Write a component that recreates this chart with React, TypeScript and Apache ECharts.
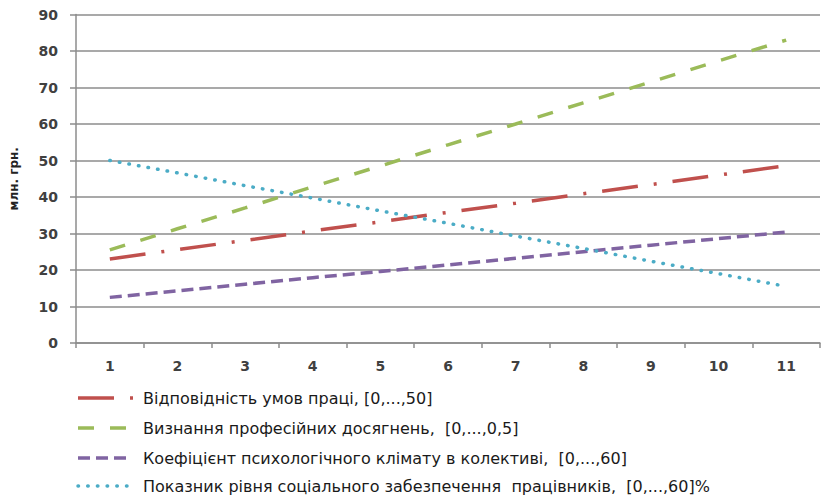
import React, { useEffect, useRef } from "react";
import * as echarts from "echarts";

// Periods 1..11 on the horizontal axis
const periods = ["1", "2", "3", "4", "5", "6", "7", "8", "9", "10", "11"];

const seriesNames = [
  "Відповідність умов праці, [0,...,50]",
  "Визнання професійних досягнень,  [0,...,0,5]",
  "Коефіцієнт психологічного клімату в колективі,  [0,...,60]",
  "Показник рівня соціального забезпечення  працівників,  [0,...,60]%",
];

const workConditions = [23.0, 25.6, 28.1, 30.7, 33.2, 35.8, 38.3, 40.9, 43.4, 46.0, 48.6];
const recognition = [25.5, 31.3, 37.0, 42.8, 48.5, 54.3, 60.0, 65.8, 71.5, 77.3, 83.0];
const climate = [12.5, 14.3, 16.1, 17.9, 19.6, 21.4, 23.2, 25.0, 26.8, 28.6, 30.4];
const socialSecurity = [50.0, 46.6, 43.1, 39.7, 36.2, 32.8, 29.3, 25.9, 22.4, 19.0, 15.5];

const yAxisName = "млн. грн.";

const colors = ["#C0504D", "#9BBB59", "#8064A2", "#4BACC6"];

// Dash patterns per series: dash-dot, long dash, short dash, round dot
const dashes = [[36, 16, 3, 16], [16, 16], [12, 6], [0.5, 9.2]];
const caps: ("butt" | "round")[] = ["butt", "butt", "butt", "round"];

export default function App() {
  const ref = useRef<HTMLDivElement>(null);

  useEffect(() => {
    if (!ref.current) return;
    const chart = echarts.init(ref.current, undefined, { renderer: "svg" });

    const gridColor = "#8C8C8C";
    const tickFont = {
      fontFamily: "DejaVu Sans",
      fontSize: 14,
      fontWeight: "bold" as const,
      color: "#404040",
    };

    const series = [workConditions, recognition, climate, socialSecurity].map((data, i) => ({
      name: seriesNames[i],
      type: "line" as const,
      data,
      symbol: "none",
      showSymbol: false,
      lineStyle: { color: colors[i], width: 3.5, type: dashes[i], cap: caps[i] },
      itemStyle: { color: colors[i] },
    }));

    // Vertical legend below the plot, one row per series
    const legendRows = [398, 428, 458, 486];
    const iconLeft = 78;
    const iconLengths = [58, 48, 50, 50];
    const legendItems = seriesNames.map((name, i) => {
      const y = legendRows[i];
      return {
        type: "group",
        children: [
          {
            type: "line",
            shape: { x1: iconLeft, y1: y, x2: iconLeft + iconLengths[i], y2: y },
            style: {
              stroke: colors[i],
              lineWidth: 3.5,
              lineDash: dashes[i],
              lineCap: caps[i],
            },
          },
          {
            type: "text",
            x: 143,
            y,
            style: {
              text: name,
              fontFamily: "DejaVu Sans",
              fontSize: 16,
              lineHeight: 18,
              fill: "#1a1a1a",
              verticalAlign: "middle",
              align: "left",
            },
          },
        ],
      };
    });

    chart.setOption({
      animation: false,
      backgroundColor: "#ffffff",
      color: colors,
      grid: { left: 72, right: 2, top: 14.5, bottom: 153, containLabel: false },
      xAxis: {
        type: "category",
        data: periods,
        boundaryGap: true,
        axisLine: { lineStyle: { color: gridColor, width: 1.5 } },
        axisTick: { show: true, length: 5, alignWithLabel: false, lineStyle: { color: gridColor, width: 1.5 } },
        axisLabel: { ...tickFont, margin: 16 },
      },
      yAxis: {
        type: "value",
        min: 0,
        max: 90,
        interval: 10,
        name: yAxisName,
        nameLocation: "middle",
        nameRotate: 90,
        nameGap: 56,
        nameTextStyle: { fontFamily: "DejaVu Sans", fontSize: 12, fontWeight: "bold", color: "#222222" },
        axisLine: { show: true, lineStyle: { color: gridColor, width: 1.5 } },
        axisTick: { show: true, length: 6, lineStyle: { color: gridColor, width: 1.5 } },
        axisLabel: { ...tickFont, margin: 18 },
        splitLine: { show: true, lineStyle: { color: gridColor, width: 1.5 } },
      },
      graphic: legendItems,
      series,
    });

    return () => chart.dispose();
  }, []);

  return <div ref={ref} style={{ width: 822, height: 496, position: "absolute", left: 0, top: 0 }} />;
}
